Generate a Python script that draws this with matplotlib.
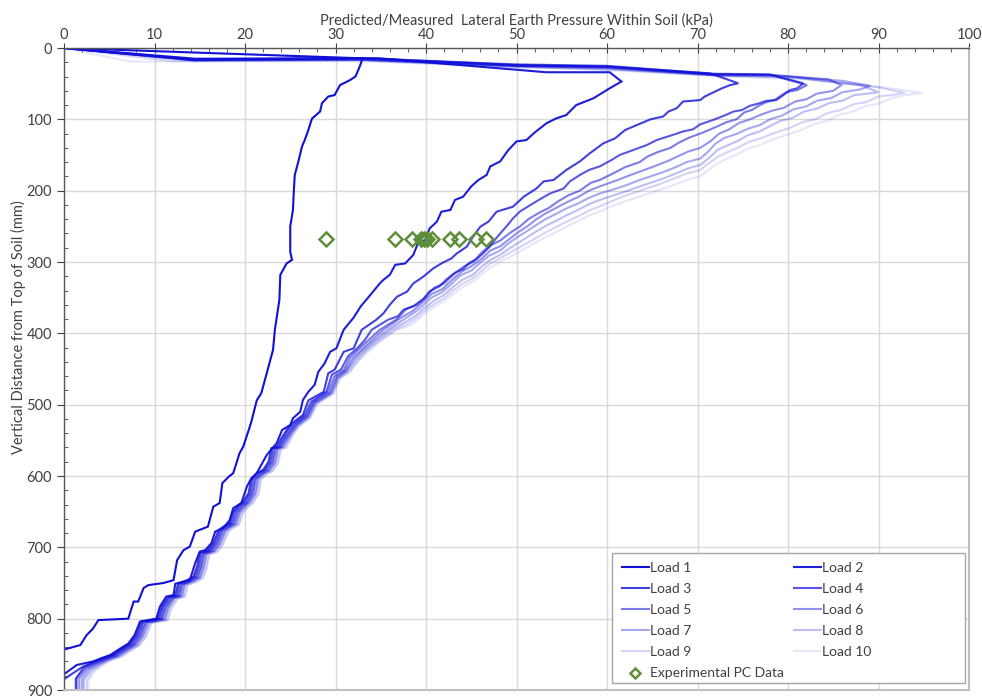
import numpy as np
import matplotlib
matplotlib.use("Agg")
import matplotlib.pyplot as plt
from matplotlib.patches import Rectangle

plt.rcParams['font.family'] = ['Lato', 'DejaVu Sans']

# (pressure kPa, depth mm)
load1 = [(0, 0), (33.0, 14.5), (32.6, 28.5), (32.2, 40), (31.6, 45), (30.5, 52), (29.9, 66), (29.2, 68),
         (28.5, 77.5), (28.3, 89), (27.4, 99), (27.0, 115), (26.6, 129), (26.3, 138), (25.9, 159), (25.5, 178),
         (25.4, 199), (25.3, 227), (25.0, 250), (25.0, 286), (25.2, 297), (24.6, 302), (23.9, 318), (23.8, 353),
         (23.3, 395), (23.1, 423), (22.4, 456), (21.8, 484), (21.3, 494), (20.7, 524), (20.4, 536), (19.8, 559),
         (19.4, 568), (18.7, 596), (18.2, 601), (17.5, 610), (17.2, 638), (16.5, 643), (15.9, 671), (14.5, 678),
         (13.9, 699), (13.2, 704), (12.5, 718), (12.1, 746), (11.0, 750), (9.3, 753), (8.8, 757), (8.2, 776),
         (7.7, 776), (7.1, 800), (3.8, 802), (3.2, 814), (2.5, 823), (1.8, 837), (0.1, 843)]

load2 = [(0, 0), (14.5, 15), (34.9, 14.5), (53.3, 34), (60.3, 34), (61.6, 47), (60.3, 56.5), (58.5, 70.5),
         (56.6, 80), (55.5, 94), (54.4, 98.6), (53.3, 105.6), (51.9, 119.6), (51.1, 129), (50.0, 131), (49.1, 143),
         (48.2, 159), (47.1, 166), (46.7, 178), (45.8, 185), (45.0, 194), (44.1, 208.5), (43.2, 213), (42.7, 227),
         (41.7, 229.5), (41.2, 243.5), (40.4, 253), (39.9, 269), (39.1, 274), (38.6, 290), (37.7, 302), (36.6, 304),
         (36.0, 318), (35.3, 325), (34.9, 330), (33.6, 350), (32.8, 362), (32.0, 378), (30.9, 395), (30.1, 421),
         (29.4, 426), (28.8, 442), (28.1, 454), (27.7, 472), (27.0, 482), (26.4, 493.5), (26.1, 510), (25.3, 519),
         (25.0, 528.5), (24.1, 535.5), (23.5, 554), (22.4, 570.6), (21.3, 596), (20.6, 605.6), (20.2, 615),
         (19.6, 638), (18.7, 645), (18.3, 662), (17.6, 673), (16.7, 678), (16.3, 694), (15.6, 704), (15.0, 706),
         (14.5, 722), (13.9, 746), (12.3, 751), (12.1, 767), (11.3, 769), (10.6, 783), (10.2, 800), (8.4, 804),
         (7.8, 823), (7.1, 835), (6.2, 842), (5.1, 851), (4.0, 856), (3.2, 860), (1.4, 865), (0.1, 877)]

load3 = [(0, 0), (14.3, 16), (33, 14), (50, 24), (60, 26), (64.8, 30), (71.4, 35.5), (74.5, 49.5), (73.6, 52),
         (72.7, 56.5), (70.8, 68), (70.3, 73), (68.4, 75), (67.7, 84.5), (66.8, 89), (66.2, 96), (64.8, 100),
         (63.3, 108), (62.0, 115), (60.9, 126.6), (59.6, 133.6), (58.1, 147.6), (57.0, 159), (55.5, 171),
         (54.1, 185), (53.0, 187), (52.2, 197), (50.8, 208.5), (49.6, 222.5), (47.8, 229.5), (46.9, 243.5),
         (46.0, 250.5), (45.2, 264.5), (44.5, 278.6), (43.4, 288), (42.8, 295), (41.7, 302), (40.8, 309),
         (39.7, 320.6), (38.6, 330), (37.9, 341.6), (36.8, 348.6), (36.0, 360), (35.3, 372), (34.5, 381),
         (32.9, 395), (32.0, 421), (30.9, 426), (29.9, 451), (29.2, 456), (28.7, 482), (27.7, 489), (27.0, 494),
         (26.4, 514.5), (25.2, 526), (24.6, 535.5), (23.9, 549.6), (23.5, 559), (22.9, 561), (22.6, 580),
         (22.0, 591.6), (21.3, 596), (20.7, 603), (20.4, 624), (19.8, 636), (19.3, 640.7), (18.7, 650), (18.3, 666),
         (17.6, 671), (17.1, 675.7), (16.5, 694), (15.9, 704), (15.0, 708), (14.7, 727), (14.3, 741), (13.6, 746),
         (12.6, 751), (12.3, 767), (11.5, 770), (10.8, 783), (10.4, 800), (8.6, 804), (8.0, 823), (7.3, 835),
         (6.4, 842), (5.3, 851), (4.2, 856), (3.4, 860), (2.0, 868), (0.1, 884)]

load4 = [(0, 0), (14.3, 16.5), (33, 14.5), (50, 23), (60, 25), (71.4, 36), (78, 37), (81.7, 49.5), (81.0, 56.5),
         (80.2, 59), (79.5, 66), (78.7, 73), (77.6, 74), (76.7, 78), (75.8, 81), (74.9, 87), (74.0, 89), (72.9, 95),
         (71.7, 101), (70.3, 107), (69.5, 114), (68.4, 117), (67.0, 123), (65.5, 129), (64.4, 136), (62.9, 143),
         (61.4, 150), (60.5, 157), (59.2, 166), (58.0, 171), (57.0, 178), (55.9, 187), (55.2, 197), (53.7, 204),
         (52.6, 212), (51.3, 222), (50.4, 229), (49.6, 239), (48.9, 250), (48.2, 260), (47.6, 269), (47.0, 279),
         (46.3, 288), (45.6, 296), (44.8, 301), (44.1, 310), (43.2, 315), (42.3, 324), (41.5, 334), (40.4, 341),
         (39.7, 352), (38.6, 362), (37.5, 367), (36.9, 376), (35.8, 381), (34.0, 395), (33.2, 410), (32.4, 421),
         (31.4, 432), (30.6, 451), (29.6, 458), (29.0, 482), (28.0, 490), (27.3, 496), (26.6, 515), (25.4, 527),
         (24.8, 536), (24.1, 550), (23.7, 559), (23.1, 561), (22.8, 580), (22.2, 591), (21.5, 596), (20.9, 603),
         (20.6, 624), (20.0, 636), (19.5, 641), (18.9, 650), (18.5, 666), (17.8, 671), (17.3, 676), (16.7, 694),
         (16.1, 704), (15.2, 708), (14.9, 727), (14.5, 741), (13.8, 746), (12.8, 751), (12.5, 767), (11.7, 770),
         (11.0, 783), (10.6, 800), (8.8, 804), (8.2, 823), (7.5, 835), (6.6, 842), (5.5, 851), (4.4, 856),
         (3.6, 860), (2.2, 868), (1.3, 884), (1.3, 900)]

load5 = [(0, 0), (14.3, 17), (33, 15.5), (50, 24.5), (60, 26.5), (71.4, 37), (78, 37.5), (82.1, 52), (81.0, 59),
         (79.8, 62), (78.5, 73), (77.6, 76), (76.9, 80), (76.0, 87), (75.2, 90), (74.3, 100), (73.2, 104),
         (72.0, 111), (70.3, 120), (69.2, 125), (67.9, 133), (67.0, 140), (65.6, 146), (64.5, 152), (63.6, 160),
         (62.0, 167), (60.8, 175), (59.2, 185), (58.2, 189), (57.0, 200), (55.8, 206), (54.6, 215), (53.6, 224),
         (52.5, 231), (51.3, 240), (50.4, 250), (49.3, 259), (48.2, 270), (47.2, 276), (46.2, 286), (45.2, 300),
         (44.2, 306), (43.0, 318), (42.0, 330), (40.9, 336), (39.9, 350), (39.0, 360), (37.8, 366), (36.8, 380),
         (34.9, 395), (33.6, 410), (32.6, 422), (31.6, 434), (30.9, 452), (29.9, 460), (29.2, 482), (28.2, 490),
         (27.5, 497), (26.8, 515), (25.6, 527), (25.0, 537), (24.3, 550), (23.9, 559), (23.3, 562), (23.0, 580),
         (22.4, 591), (21.7, 597), (21.1, 604), (20.8, 624), (20.2, 637), (19.7, 641), (19.1, 651), (18.7, 666),
         (18.0, 672), (17.5, 676), (16.9, 694), (16.3, 704), (15.4, 709), (15.1, 727), (14.7, 741), (14.0, 746),
         (13.0, 752), (12.7, 767), (11.9, 771), (11.2, 783), (10.8, 800), (9.0, 805), (8.4, 823), (7.7, 836),
         (6.8, 842), (5.7, 851), (4.6, 856), (3.8, 861), (2.4, 869), (1.4, 884), (1.4, 900)]

load6 = [(0, 0), (14.3, 17), (33, 16), (50, 25), (60, 27), (71.4, 37), (78.5, 38), (84.5, 44), (85.9, 52),
         (85.0, 60), (83.2, 64), (82.0, 72), (80.8, 75), (79.5, 84), (78.2, 88), (76.9, 94), (75.8, 100),
         (74.6, 105), (73.5, 114), (72.4, 120), (71.4, 131), (70.3, 140), (69.0, 145), (67.8, 152), (66.8, 158),
         (65.2, 166), (63.9, 172), (62.6, 178), (61.2, 185), (59.2, 194), (58.0, 200), (56.8, 209), (55.6, 216),
         (54.4, 224), (53.2, 232), (52.2, 240), (51.2, 250), (50.2, 258), (49.2, 268), (48.2, 278), (47.1, 284),
         (46.2, 295), (45.0, 306), (43.9, 314), (42.8, 326), (41.8, 338), (40.6, 345), (39.6, 357), (38.5, 369),
         (37.5, 376), (35.3, 395), (34.0, 410), (32.9, 423), (31.9, 435), (31.1, 452), (30.1, 461), (29.4, 483),
         (28.4, 491), (27.6, 497), (26.9, 516), (25.7, 528), (25.1, 537), (24.4, 550), (24.0, 559), (23.4, 562),
         (23.1, 581), (22.5, 592), (21.8, 597), (21.2, 604), (20.9, 625), (20.3, 637), (19.8, 642), (19.2, 651),
         (18.8, 667), (18.1, 672), (17.6, 677), (17.0, 695), (16.4, 705), (15.5, 709), (15.2, 728), (14.8, 742),
         (14.1, 747), (13.1, 752), (12.8, 768), (12.0, 771), (11.3, 784), (10.9, 800), (9.1, 805), (8.5, 824),
         (7.8, 836), (6.9, 843), (5.8, 852), (4.7, 857), (3.9, 861), (2.6, 870), (1.7, 884), (1.7, 900)]

load7 = [(0, 0), (14.3, 17.5), (33, 16.5), (50, 25.5), (60, 28), (72, 38), (79, 39), (86, 46), (89.1, 53),
         (88.0, 58), (86.0, 62), (84.8, 70), (83.2, 74), (82.0, 82), (80.6, 86), (79.3, 95), (78.0, 100),
         (76.9, 108), (75.6, 113), (74.4, 120), (73.0, 126), (72.0, 134), (71.2, 145), (70.3, 155), (68.8, 160),
         (67.6, 167), (66.2, 174), (64.8, 180), (63.4, 186), (62.2, 192), (60.8, 198), (59.2, 204), (58.0, 210),
         (56.8, 218), (55.5, 225), (54.3, 233), (53.2, 240), (52.2, 248), (51.0, 258), (50.0, 266), (49.0, 275),
         (48.2, 284), (47.0, 291), (46.0, 301), (45.0, 312), (43.8, 319), (42.8, 331), (41.8, 342), (40.6, 350),
         (39.6, 362), (38.6, 372), (37.6, 380), (35.8, 395), (34.3, 410), (33.1, 423), (32.1, 436), (31.2, 453),
         (30.2, 462), (29.5, 483), (28.5, 491), (27.7, 498), (27.0, 516), (25.8, 528), (25.2, 538), (24.6, 550),
         (24.2, 559), (23.6, 562), (23.3, 581), (22.7, 592), (22.0, 597), (21.4, 604), (21.1, 625), (20.5, 637),
         (20.0, 642), (19.4, 651), (19.0, 667), (18.3, 672), (17.8, 677), (17.2, 695), (16.6, 705), (15.7, 709),
         (15.4, 728), (15.0, 742), (14.3, 747), (13.3, 752), (13.0, 768), (12.2, 771), (11.5, 784), (11.1, 801),
         (9.3, 805), (8.7, 824), (8.0, 836), (7.1, 843), (6.0, 852), (4.9, 857), (4.1, 862), (2.8, 871),
         (2.0, 885), (2.0, 900)]

load8 = [(0, 0), (14.3, 17.5), (33, 17), (50, 26), (60, 29), (72, 38.5), (80, 40), (88, 52), (90.0, 62),
         (88.8, 64), (87.3, 66), (86.0, 74), (84.6, 77), (83.2, 85), (81.8, 89), (80.5, 98), (79.2, 102),
         (77.9, 110), (76.9, 117), (75.6, 122), (74.5, 130), (73.4, 136), (72.2, 143), (71.2, 155), (70.3, 164),
         (68.9, 169), (67.6, 176), (66.2, 183), (64.8, 189), (63.4, 195), (62.1, 201), (60.6, 207), (59.2, 213),
         (58.0, 219), (56.8, 227), (55.6, 234), (54.4, 242), (53.3, 249), (52.2, 257), (51.1, 266), (50.1, 274),
         (49.1, 282), (48.2, 290), (47.1, 297), (46.1, 307), (45.2, 318), (44.0, 325), (42.9, 336), (41.9, 347),
         (40.8, 355), (39.7, 366), (38.8, 376), (37.9, 383), (36.2, 395), (34.6, 410), (33.3, 424), (32.3, 437),
         (31.3, 453), (30.3, 463), (29.6, 484), (28.6, 492), (27.8, 498), (27.1, 517), (25.9, 529), (25.3, 538),
         (24.7, 550), (24.3, 559), (23.7, 562), (23.4, 581), (22.8, 592), (22.1, 597), (21.5, 604), (21.2, 625),
         (20.6, 637), (20.1, 642), (19.5, 651), (19.1, 667), (18.4, 672), (17.9, 677), (17.3, 695), (16.7, 705),
         (15.8, 709), (15.5, 728), (15.1, 742), (14.4, 747), (13.4, 752), (13.1, 768), (12.3, 771), (11.6, 784),
         (11.2, 801), (9.4, 806), (8.8, 824), (8.1, 837), (7.2, 843), (6.1, 852), (5.0, 857), (4.2, 862),
         (3.0, 872), (2.2, 886), (2.2, 900)]

load9 = [(0, 0), (12, 18.5), (33, 17.5), (50, 26.5), (60, 30), (73, 39), (81, 42), (90, 55), (92.9, 63),
         (91.5, 66), (90.0, 68), (88.6, 76), (87.2, 79), (85.8, 87), (84.4, 91), (83.0, 100), (81.6, 104),
         (80.2, 112), (79.0, 117), (77.9, 122), (76.9, 127), (75.6, 132), (74.4, 140), (73.3, 146), (72.2, 153),
         (71.2, 162), (70.3, 171), (68.8, 176), (67.4, 183), (66.0, 190), (64.6, 196), (63.2, 202), (61.8, 208),
         (60.5, 215), (59.2, 222), (58.0, 228), (56.8, 236), (55.6, 243), (54.4, 251), (53.3, 258), (52.2, 266),
         (51.1, 274), (50.1, 281), (49.1, 288), (48.2, 295), (47.1, 302), (46.2, 312), (45.3, 322), (44.1, 330),
         (43.0, 340), (42.0, 351), (40.9, 359), (39.8, 369), (38.9, 379), (38.1, 386), (36.6, 395), (34.9, 410),
         (33.5, 424), (32.5, 438), (31.5, 454), (30.4, 463), (29.7, 484), (28.7, 492), (27.9, 499), (27.2, 517),
         (26.0, 529), (25.4, 539), (24.9, 550), (24.5, 560), (23.9, 563), (23.6, 582), (23.0, 593), (22.3, 598),
         (21.7, 605), (21.4, 626), (20.8, 638), (20.3, 643), (19.7, 652), (19.3, 668), (18.6, 673), (18.1, 678),
         (17.5, 696), (16.9, 706), (16.0, 710), (15.7, 729), (15.3, 743), (14.6, 748), (13.6, 753), (13.3, 769),
         (12.5, 772), (11.8, 785), (11.4, 802), (9.6, 806), (9.0, 825), (8.3, 837), (7.4, 844), (6.3, 853),
         (5.2, 858), (4.4, 863), (3.2, 873), (2.5, 887), (2.5, 900)]

load10 = [(0, 0), (7.3, 19), (33, 18.5), (50, 27), (60, 31), (73, 40), (82, 44), (91, 56), (94.8, 63),
          (93.0, 66), (91.5, 70), (90.0, 78), (88.6, 81), (87.2, 89), (85.8, 93), (84.4, 102), (83.0, 106),
          (81.6, 114), (80.3, 120), (79.0, 125), (77.9, 130), (76.9, 136), (75.6, 141), (74.4, 149), (73.3, 155),
          (72.2, 162), (71.2, 171), (70.3, 180), (68.8, 185), (67.4, 192), (66.0, 198), (64.6, 204), (63.2, 210),
          (61.8, 216), (60.5, 222), (59.2, 229), (58.0, 235), (56.8, 243), (55.6, 250), (54.4, 258), (53.3, 265),
          (52.2, 272), (51.1, 280), (50.1, 287), (49.1, 294), (48.2, 300), (47.2, 307), (46.3, 316), (45.4, 326),
          (44.2, 334), (43.1, 344), (42.1, 354), (41.0, 362), (39.9, 372), (39.0, 382), (38.3, 389), (36.8, 395),
          (35.1, 410), (33.7, 425), (32.6, 438), (31.6, 454), (30.5, 464), (29.8, 485), (28.8, 493), (28.0, 499),
          (27.3, 518), (26.1, 530), (25.5, 539), (25.0, 550), (24.6, 560), (24.0, 563), (23.7, 582), (23.1, 593),
          (22.4, 598), (21.8, 605), (21.5, 626), (20.9, 638), (20.4, 643), (19.8, 652), (19.4, 668), (18.7, 673),
          (18.2, 678), (17.6, 696), (17.0, 706), (16.1, 710), (15.8, 729), (15.4, 743), (14.7, 748), (13.7, 753),
          (13.4, 769), (12.6, 772), (11.9, 785), (11.5, 802), (9.7, 806), (9.1, 825), (8.4, 837), (7.5, 844),
          (6.4, 853), (5.3, 858), (4.5, 863), (3.4, 874), (2.7, 888), (2.7, 900)]

loads = [load1, load2, load3, load4, load5, load6, load7, load8, load9, load10]
load_names = ["Load %d" % (i + 1) for i in range(10)]
load_alpha = [1.0, 0.95, 0.8, 0.7, 0.55, 0.45, 0.36, 0.27, 0.18, 0.1]

exp_pressure = [29.0, 36.6, 38.4, 39.5, 39.8, 40.1, 40.7, 42.7, 43.6, 45.5, 46.6]
exp_depth = [268, 268, 268, 268, 268, 268, 268, 268, 268, 268, 268]

fig = plt.figure(figsize=(9.82, 6.98), dpi=100)
ax = fig.add_axes([64 / 982, 1 - 690 / 698, 905 / 982, 642 / 698])

handles = {}
for name, data, a in zip(load_names, loads, load_alpha):
    p, d = np.array(data).T
    h, = ax.plot(p, d, color='#1010D8', alpha=a, lw=1.5, solid_joinstyle='miter')
    handles[name] = h

hexp, = ax.plot(exp_pressure, exp_depth, linestyle='none', marker='D', markersize=7,
                markerfacecolor='none', markeredgecolor='#5F8E3A', markeredgewidth=1.8)

ax.set_xlim(0, 100)
ax.set_ylim(900, 0)
ax.xaxis.tick_top()
ax.xaxis.set_label_position('top')
ax.set_xticks(np.arange(0, 101, 10))
ax.set_xticks(np.arange(0, 101, 2), minor=True)
ax.set_yticks(np.arange(0, 901, 100))
ax.set_yticks(np.arange(0, 901, 20), minor=True)
ax.tick_params(axis='both', which='major', labelsize=10.5, colors='#404040', length=5, direction='out')
ax.tick_params(axis='x', which='major', direction='inout', length=7, pad=1)
ax.tick_params(axis='both', which='minor', direction='in', length=3, color='#404040')
ax.grid(True, which='major', color='#D9D9D9', lw=1)
ax.set_axisbelow(True)

for s in ['top', 'left']:
    ax.spines[s].set_color('#595959')
    ax.spines[s].set_linewidth(1)
for s in ['right', 'bottom']:
    ax.spines[s].set_color('#BFBFBF')
    ax.spines[s].set_linewidth(1.5)

ax.set_xlabel("Predicted/Measured  Lateral Earth Pressure Within Soil (kPa)", fontsize=10.5,
              color='#404040', labelpad=2)
ax.set_ylabel("Vertical Distance from Top of Soil (mm)", fontsize=10.5, color='#404040')
ax.yaxis.set_label_coords(-0.042, 0.565)

# legend box (white, gray edge) drawn as its own patch
x0, y0 = (612 - 64) / 905, 1 - (683 - 48) / 642
x1, y1 = (965 - 64) / 905, 1 - (553 - 48) / 642
ax.add_patch(Rectangle((x0, y0), x1 - x0, y1 - y0, transform=ax.transAxes, facecolor='white',
                       edgecolor='#A6A6A6', lw=1, zorder=4))

order = ["Load 1", "Load 3", "Load 5", "Load 7", "Load 9", None,
         "Load 2", "Load 4", "Load 6", "Load 8", "Load 10"]
hl = [handles[n] if n else hexp for n in order]
ll = [n if n else "Experimental PC Data" for n in order]
leg = ax.legend(hl, ll, ncol=2, loc='upper left', bbox_to_anchor=(x0 - 0.001, y1 + 0.004),
                fontsize=10, frameon=False, handlelength=1.9, handletextpad=0.1,
                columnspacing=0.75, labelspacing=0.66, borderpad=0.3, markerscale=0.75)
leg.set_zorder(5)
for t in leg.get_texts():
    t.set_color('#404040')

fig.savefig("out.png", dpi=100)
